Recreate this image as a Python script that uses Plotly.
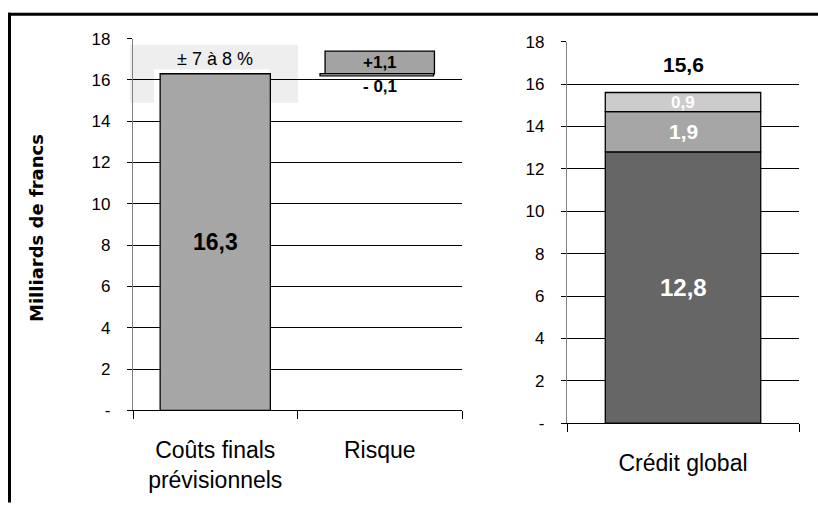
import plotly.graph_objects as go

W, H = 818, 505

# ---- data ----
left_categories = ["Coûts finals<br>prévisionnels", "Risque"]
cout_final = 16.3
risque_plus = 1.1
risque_minus = 0.1
range_label = "± 7 à 8 %"

right_category = ["Crédit global"]
credit_parts = [12.8, 1.9, 0.9]
credit_total = 15.6
credit_colors = ["#666666", "#a6a6a6", "#cccccc"]

y_ticks = [0, 2, 4, 6, 8, 10, 12, 14, 16, 18]
y_ticktext = ["-", "2", "4", "6", "8", "10", "12", "14", "16", "18"]


def fmt(v):
    return f"{v:.1f}".replace(".", ",")


# pixel -> paper helpers (vertical compensates the observed render mapping)
Y_OFF, Y_SPAN = 7.1, 490.3


def px_x(p):
    return p / W


def px_y(p):
    return 1 - (p - Y_OFF) / Y_SPAN


FONT = "Liberation Sans, Arial, sans-serif"
line = dict(color="black", width=1.3)

fig = go.Figure()

# left panel
fig.add_trace(go.Bar(x=[left_categories[0]], y=[cout_final], width=0.67,
                     marker=dict(color="#a6a6a6", line=line),
                     xaxis="x", yaxis="y", showlegend=False, hoverinfo="skip"))
fig.add_trace(go.Bar(x=[left_categories[1]], y=[risque_plus], base=[cout_final], width=0.665,
                     marker=dict(color="#a3a3a3", line=line),
                     xaxis="x", yaxis="y", showlegend=False, hoverinfo="skip"))
fig.add_trace(go.Bar(x=[left_categories[1]], y=[risque_minus], base=[cout_final - risque_minus],
                     width=0.69, offset=-0.363,
                     marker=dict(color="white", line=line),
                     xaxis="x", yaxis="y", showlegend=False, hoverinfo="skip"))

# right panel stacked
base = 0
for v, c in zip(credit_parts, credit_colors):
    fig.add_trace(go.Bar(x=right_category, y=[v], base=[base], width=0.67,
                         marker=dict(color=c, line=line),
                         xaxis="x2", yaxis="y2", showlegend=False, hoverinfo="skip"))
    base += v

shapes = [
    # uncertainty box
    dict(type="rect", xref="paper", yref="y", x0=px_x(130), x1=px_x(298), y0=14.9, y1=17.7,
         fillcolor="#eeeeee", line=dict(width=0), layer="between"),
    dict(type="rect", xref="paper", yref="y", x0=px_x(154), x1=px_x(269), y0=14.9, y1=16.5,
         fillcolor="white", line=dict(width=0), layer="between"),
    # frame
    dict(type="line", xref="paper", yref="paper", x0=px_x(8), x1=1.0,
         y0=px_y(12.5), y1=px_y(12.5), line=dict(color="black", width=3)),
    dict(type="line", xref="paper", yref="paper", x0=px_x(9.5), x1=px_x(9.5),
         y0=px_y(11), y1=px_y(505), line=dict(color="black", width=3)),
]

annotations = [
    dict(x=0, y=cout_final / 2, xref="x", yref="y", text=f"<b>{fmt(cout_final)}</b>",
         showarrow=False, font=dict(size=23, color="black", family=FONT)),
    dict(x=0, y=17.03, xref="x", yref="y", text=range_label,
         showarrow=False, font=dict(size=18, color="black", family=FONT)),
    dict(x=1, y=cout_final + risque_plus / 2, xref="x", yref="y", text=f"<b>+{fmt(risque_plus)}</b>",
         showarrow=False, font=dict(size=17, color="black", family=FONT)),
    dict(x=1, y=15.7, xref="x", yref="y", text=f"<b>- {fmt(risque_minus)}</b>",
         showarrow=False, font=dict(size=17, color="black", family=FONT)),
    dict(x=0, y=credit_parts[0] / 2, xref="x2", yref="y2", text=f"<b>{fmt(credit_parts[0])}</b>",
         showarrow=False, font=dict(size=24, color="white", family=FONT)),
    dict(x=0, y=credit_parts[0] + credit_parts[1] / 2, xref="x2", yref="y2",
         text=f"<b>{fmt(credit_parts[1])}</b>",
         showarrow=False, font=dict(size=21, color="white", family=FONT)),
    dict(x=0, y=credit_parts[0] + credit_parts[1] + credit_parts[2] / 2, xref="x2", yref="y2",
         text=f"<b>{fmt(credit_parts[2])}</b>",
         showarrow=False, font=dict(size=17, color="white", family=FONT)),
    dict(x=0, y=16.92, xref="x2", yref="y2", text=f"<b>{fmt(credit_total)}</b>",
         showarrow=False, font=dict(size=21, color="black", family=FONT)),
    dict(x=px_x(37), y=px_y(228), xref="paper", yref="paper", xanchor="center", yanchor="middle",
         text="<b>Milliards de francs</b>", textangle=-90, showarrow=False,
         font=dict(size=18, color="black", family="DejaVu Sans, sans-serif")),
]

yaxis_common = dict(range=[0, 18], tickvals=y_ticks, ticktext=y_ticktext,
                    showgrid=True, gridcolor="black", gridwidth=1,
                    showline=True, linecolor="#808080", linewidth=1.3,
                    ticks="outside", ticklen=5, tickcolor="black", tickwidth=1,
                    ticklabelstandoff=13,
                    tickfont=dict(size=17, color="black", family=FONT),
                    zeroline=False, fixedrange=True)
xaxis_common = dict(type="category", showline=True, linecolor="black", linewidth=1.3,
                    ticks="outside", ticklen=8, tickcolor="black", tickwidth=1.3,
                    tickson="boundaries", showgrid=False, ticklabelstandoff=19,
                    tickfont=dict(size=23, color="black", family=FONT), fixedrange=True)

fig.update_layout(
    width=W, height=H,
    margin=dict(l=0, r=0, t=0, b=0),
    paper_bgcolor="white", plot_bgcolor="white",
    barmode="overlay",
    shapes=shapes, annotations=annotations,
    xaxis=dict(xaxis_common, domain=[px_x(133), px_x(462)], range=[-0.5, 1.5], anchor="y"),
    yaxis=dict(yaxis_common, domain=[px_y(412), px_y(37)], anchor="x"),
    xaxis2=dict(xaxis_common, domain=[px_x(567), px_x(799)], range=[-0.5, 0.5], anchor="y2"),
    yaxis2=dict(yaxis_common, domain=[px_y(425), px_y(40)], anchor="x2"),
)

fig.write_html(
    "out.html",
    config={"displayModeBar": False},
    post_script="document.body.style.margin='0';document.body.style.overflow='hidden';",
)
